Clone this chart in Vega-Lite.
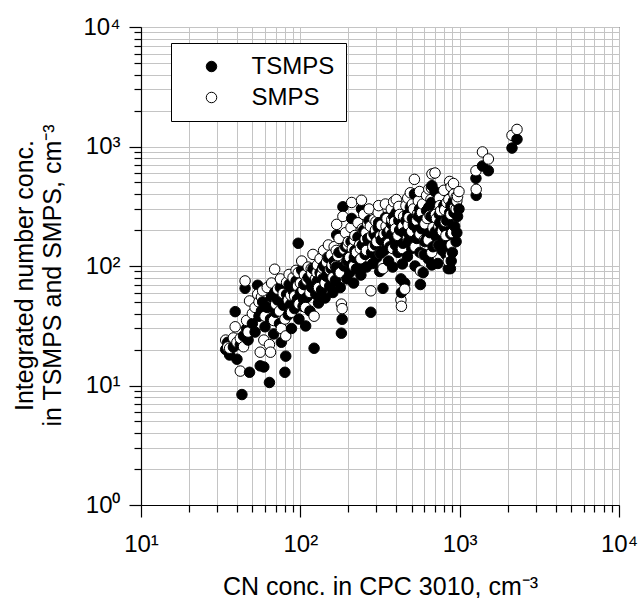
{
  "$schema": "https://vega.github.io/schema/vega-lite/v6.json",
  "width": 478,
  "height": 478,
  "autosize": "none",
  "padding": {"left": 141, "top": 27, "right": 19, "bottom": 93},
  "background": "white",
  "config": {
    "font": "Liberation Sans",
    "view": {"stroke": "black", "strokeWidth": 1},
    "axis": {"labelFont": "Liberation Sans", "titleFont": "Liberation Sans", "titleFontWeight": "normal", "labelColor": "black", "titleColor": "black"}
  },
  "data": {"values": [
    {"cn":34,"n":20,"inst":"TSMPS"},{"cn":34,"n":24,"inst":"SMPS"},
    {"cn":35,"n":23,"inst":"TSMPS"},{"cn":35,"n":21,"inst":"SMPS"},
    {"cn":36,"n":18,"inst":"TSMPS"},{"cn":36,"n":20.5,"inst":"SMPS"},
    {"cn":38,"n":21,"inst":"TSMPS"},{"cn":38,"n":25,"inst":"SMPS"},
    {"cn":40,"n":16.6,"inst":"TSMPS"},{"cn":40,"n":23,"inst":"SMPS"},
    {"cn":39,"n":41.5,"inst":"TSMPS"},{"cn":39,"n":31,"inst":"SMPS"},
    {"cn":43,"n":8.4,"inst":"TSMPS"},{"cn":42,"n":13.2,"inst":"SMPS"},
    {"cn":42,"n":22,"inst":"TSMPS"},{"cn":42,"n":24.8,"inst":"SMPS"},
    {"cn":44,"n":26,"inst":"TSMPS"},{"cn":44,"n":21.1,"inst":"SMPS"},
    {"cn":45,"n":65,"inst":"TSMPS"},{"cn":45,"n":75,"inst":"SMPS"},
    {"cn":46,"n":30,"inst":"TSMPS"},{"cn":46,"n":35,"inst":"SMPS"},
    {"cn":48,"n":12.9,"inst":"TSMPS"},{"cn":48,"n":51,"inst":"SMPS"},
    {"cn":47,"n":24,"inst":"TSMPS"},{"cn":47,"n":28,"inst":"SMPS"},
    {"cn":50,"n":33,"inst":"TSMPS"},{"cn":50,"n":40,"inst":"SMPS"},
    {"cn":52,"n":28,"inst":"TSMPS"},{"cn":52,"n":45,"inst":"SMPS"},
    {"cn":54,"n":69,"inst":"TSMPS"},{"cn":54,"n":58,"inst":"SMPS"},
    {"cn":55,"n":38,"inst":"TSMPS"},{"cn":55,"n":50,"inst":"SMPS"},
    {"cn":56,"n":14.6,"inst":"TSMPS"},{"cn":56,"n":19,"inst":"SMPS"},
    {"cn":57,"n":42,"inst":"TSMPS"},{"cn":57,"n":55,"inst":"SMPS"},
    {"cn":59,"n":14.3,"inst":"TSMPS"},{"cn":59,"n":24,"inst":"SMPS"},
    {"cn":58,"n":50,"inst":"TSMPS"},{"cn":58,"n":62,"inst":"SMPS"},
    {"cn":60,"n":31,"inst":"TSMPS"},{"cn":60,"n":38,"inst":"SMPS"},
    {"cn":62,"n":45,"inst":"TSMPS"},{"cn":62,"n":66,"inst":"SMPS"},
    {"cn":64,"n":10.6,"inst":"TSMPS"},{"cn":64,"n":22,"inst":"SMPS"},
    {"cn":65,"n":36,"inst":"TSMPS"},{"cn":65,"n":19,"inst":"SMPS"},
    {"cn":66,"n":55,"inst":"TSMPS"},{"cn":66,"n":72,"inst":"SMPS"},
    {"cn":68,"n":27,"inst":"TSMPS"},{"cn":68,"n":35,"inst":"SMPS"},
    {"cn":69,"n":60,"inst":"TSMPS"},{"cn":69,"n":94,"inst":"SMPS"},
    {"cn":70,"n":41,"inst":"TSMPS"},{"cn":70,"n":48,"inst":"SMPS"},
    {"cn":72,"n":52,"inst":"TSMPS"},{"cn":72,"n":64,"inst":"SMPS"},
    {"cn":74,"n":33,"inst":"TSMPS"},{"cn":74,"n":42,"inst":"SMPS"},
    {"cn":75,"n":66,"inst":"TSMPS"},{"cn":75,"n":78,"inst":"SMPS"},
    {"cn":76,"n":23,"inst":"TSMPS"},{"cn":76,"n":30,"inst":"SMPS"},
    {"cn":78,"n":47,"inst":"TSMPS"},{"cn":78,"n":59,"inst":"SMPS"},
    {"cn":80,"n":12.9,"inst":"TSMPS"},{"cn":80,"n":36,"inst":"SMPS"},
    {"cn":81,"n":17.6,"inst":"TSMPS"},{"cn":81,"n":26,"inst":"SMPS"},
    {"cn":82,"n":58,"inst":"TSMPS"},{"cn":82,"n":73,"inst":"SMPS"},
    {"cn":84,"n":39,"inst":"TSMPS"},{"cn":84,"n":52,"inst":"SMPS"},
    {"cn":85,"n":70,"inst":"TSMPS"},{"cn":85,"n":85,"inst":"SMPS"},
    {"cn":87,"n":48,"inst":"TSMPS"},{"cn":87,"n":57,"inst":"SMPS"},
    {"cn":88,"n":30,"inst":"TSMPS"},{"cn":88,"n":41,"inst":"SMPS"},
    {"cn":90,"n":62,"inst":"TSMPS"},{"cn":90,"n":80,"inst":"SMPS"},
    {"cn":92,"n":44,"inst":"TSMPS"},{"cn":92,"n":56,"inst":"SMPS"},
    {"cn":94,"n":75,"inst":"TSMPS"},{"cn":94,"n":92,"inst":"SMPS"},
    {"cn":96,"n":53,"inst":"TSMPS"},{"cn":96,"n":68,"inst":"SMPS"},
    {"cn":97,"n":155,"inst":"TSMPS"},{"cn":97,"n":88,"inst":"SMPS"},
    {"cn":98,"n":36,"inst":"TSMPS"},{"cn":98,"n":48,"inst":"SMPS"},
    {"cn":100,"n":60,"inst":"TSMPS"},{"cn":100,"n":72,"inst":"SMPS"},
    {"cn":102,"n":92.6,"inst":"TSMPS"},{"cn":102,"n":110,"inst":"SMPS"},
    {"cn":104,"n":46,"inst":"TSMPS"},{"cn":104,"n":63,"inst":"SMPS"},
    {"cn":105,"n":52,"inst":"TSMPS"},{"cn":105,"n":70,"inst":"SMPS"},
    {"cn":106,"n":70,"inst":"TSMPS"},{"cn":106,"n":84,"inst":"SMPS"},
    {"cn":108,"n":31.5,"inst":"TSMPS"},{"cn":108,"n":45,"inst":"SMPS"},
    {"cn":110,"n":55,"inst":"TSMPS"},{"cn":110,"n":76,"inst":"SMPS"},
    {"cn":112,"n":80,"inst":"TSMPS"},{"cn":112,"n":98,"inst":"SMPS"},
    {"cn":115,"n":42,"inst":"TSMPS"},{"cn":115,"n":60,"inst":"SMPS"},
    {"cn":117,"n":73,"inst":"TSMPS"},{"cn":117,"n":95,"inst":"SMPS"},
    {"cn":118,"n":66,"inst":"TSMPS"},{"cn":118,"n":87,"inst":"SMPS"},
    {"cn":120,"n":95,"inst":"TSMPS"},{"cn":120,"n":125,"inst":"SMPS"},
    {"cn":122,"n":20.5,"inst":"TSMPS"},{"cn":122,"n":38,"inst":"SMPS"},
    {"cn":125,"n":58,"inst":"TSMPS"},{"cn":125,"n":79,"inst":"SMPS"},
    {"cn":127,"n":62,"inst":"TSMPS"},{"cn":127,"n":88,"inst":"SMPS"},
    {"cn":128,"n":75,"inst":"TSMPS"},{"cn":128,"n":102,"inst":"SMPS"},
    {"cn":130,"n":49,"inst":"TSMPS"},{"cn":130,"n":66,"inst":"SMPS"},
    {"cn":133,"n":88,"inst":"TSMPS"},{"cn":133,"n":115,"inst":"SMPS"},
    {"cn":136,"n":63,"inst":"TSMPS"},{"cn":136,"n":84,"inst":"SMPS"},
    {"cn":138,"n":78,"inst":"TSMPS"},{"cn":138,"n":96,"inst":"SMPS"},
    {"cn":140,"n":100,"inst":"TSMPS"},{"cn":140,"n":135,"inst":"SMPS"},
    {"cn":143,"n":54,"inst":"TSMPS"},{"cn":143,"n":72,"inst":"SMPS"},
    {"cn":146,"n":82,"inst":"TSMPS"},{"cn":146,"n":108,"inst":"SMPS"},
    {"cn":148,"n":90,"inst":"TSMPS"},{"cn":148,"n":118,"inst":"SMPS"},
    {"cn":150,"n":118,"inst":"TSMPS"},{"cn":150,"n":150,"inst":"SMPS"},
    {"cn":153,"n":68,"inst":"TSMPS"},{"cn":153,"n":93,"inst":"SMPS"},
    {"cn":156,"n":95,"inst":"TSMPS"},{"cn":156,"n":124,"inst":"SMPS"},
    {"cn":158,"n":73,"inst":"TSMPS"},{"cn":158,"n":102,"inst":"SMPS"},
    {"cn":160,"n":60,"inst":"TSMPS"},{"cn":160,"n":80,"inst":"SMPS"},
    {"cn":163,"n":110,"inst":"TSMPS"},{"cn":163,"n":145,"inst":"SMPS"},
    {"cn":166,"n":76,"inst":"TSMPS"},{"cn":166,"n":100,"inst":"SMPS"},
    {"cn":168,"n":98,"inst":"TSMPS"},{"cn":168,"n":135,"inst":"SMPS"},
    {"cn":169,"n":182,"inst":"TSMPS"},{"cn":169,"n":223,"inst":"SMPS"},
    {"cn":172,"n":90,"inst":"TSMPS"},{"cn":172,"n":122,"inst":"SMPS"},
    {"cn":175,"n":130,"inst":"TSMPS"},{"cn":175,"n":170,"inst":"SMPS"},
    {"cn":178,"n":66,"inst":"TSMPS"},{"cn":178,"n":88,"inst":"SMPS"},
    {"cn":181,"n":27.4,"inst":"TSMPS"},{"cn":181,"n":48,"inst":"SMPS"},
    {"cn":183,"n":35.8,"inst":"TSMPS"},{"cn":183,"n":44,"inst":"SMPS"},
    {"cn":185,"n":313,"inst":"TSMPS"},{"cn":185,"n":260,"inst":"SMPS"},
    {"cn":188,"n":100,"inst":"TSMPS"},{"cn":188,"n":138,"inst":"SMPS"},
    {"cn":192,"n":145,"inst":"TSMPS"},{"cn":192,"n":190,"inst":"SMPS"},
    {"cn":196,"n":78,"inst":"TSMPS"},{"cn":196,"n":110,"inst":"SMPS"},
    {"cn":198,"n":110,"inst":"TSMPS"},{"cn":198,"n":150,"inst":"SMPS"},
    {"cn":200,"n":120,"inst":"TSMPS"},{"cn":200,"n":160,"inst":"SMPS"},
    {"cn":204,"n":88,"inst":"TSMPS"},{"cn":204,"n":118,"inst":"SMPS"},
    {"cn":208,"n":160,"inst":"TSMPS"},{"cn":208,"n":210,"inst":"SMPS"},
    {"cn":210,"n":250,"inst":"TSMPS"},{"cn":210,"n":340,"inst":"SMPS"},
    {"cn":212,"n":104,"inst":"TSMPS"},{"cn":212,"n":140,"inst":"SMPS"},
    {"cn":216,"n":72,"inst":"TSMPS"},{"cn":216,"n":100,"inst":"SMPS"},
    {"cn":218,"n":118,"inst":"TSMPS"},{"cn":218,"n":165,"inst":"SMPS"},
    {"cn":220,"n":135,"inst":"TSMPS"},{"cn":220,"n":180,"inst":"SMPS"},
    {"cn":225,"n":95,"inst":"TSMPS"},{"cn":225,"n":130,"inst":"SMPS"},
    {"cn":230,"n":175,"inst":"TSMPS"},{"cn":230,"n":230,"inst":"SMPS"},
    {"cn":235,"n":112,"inst":"TSMPS"},{"cn":235,"n":150,"inst":"SMPS"},
    {"cn":238,"n":102,"inst":"TSMPS"},{"cn":238,"n":140,"inst":"SMPS"},
    {"cn":240,"n":84,"inst":"TSMPS"},{"cn":240,"n":115,"inst":"SMPS"},
    {"cn":242,"n":300,"inst":"TSMPS"},{"cn":242,"n":355,"inst":"SMPS"},
    {"cn":245,"n":150,"inst":"TSMPS"},{"cn":245,"n":205,"inst":"SMPS"},
    {"cn":250,"n":200,"inst":"TSMPS"},{"cn":250,"n":270,"inst":"SMPS"},
    {"cn":255,"n":125,"inst":"TSMPS"},{"cn":255,"n":168,"inst":"SMPS"},
    {"cn":258,"n":145,"inst":"TSMPS"},{"cn":258,"n":190,"inst":"SMPS"},
    {"cn":260,"n":98,"inst":"TSMPS"},{"cn":260,"n":135,"inst":"SMPS"},
    {"cn":265,"n":170,"inst":"TSMPS"},{"cn":265,"n":225,"inst":"SMPS"},
    {"cn":270,"n":240,"inst":"TSMPS"},{"cn":270,"n":300,"inst":"SMPS"},
    {"cn":275,"n":160,"inst":"TSMPS"},{"cn":275,"n":215,"inst":"SMPS"},
    {"cn":277,"n":41,"inst":"TSMPS"},{"cn":277,"n":62,"inst":"SMPS"},
    {"cn":280,"n":130,"inst":"TSMPS"},{"cn":280,"n":178,"inst":"SMPS"},
    {"cn":285,"n":105,"inst":"TSMPS"},{"cn":285,"n":145,"inst":"SMPS"},
    {"cn":290,"n":185,"inst":"TSMPS"},{"cn":290,"n":245,"inst":"SMPS"},
    {"cn":296,"n":150,"inst":"TSMPS"},{"cn":296,"n":200,"inst":"SMPS"},
    {"cn":298,"n":175,"inst":"TSMPS"},{"cn":298,"n":235,"inst":"SMPS"},
    {"cn":302,"n":118,"inst":"TSMPS"},{"cn":302,"n":160,"inst":"SMPS"},
    {"cn":308,"n":210,"inst":"TSMPS"},{"cn":308,"n":280,"inst":"SMPS"},
    {"cn":310,"n":230,"inst":"TSMPS"},{"cn":310,"n":320,"inst":"SMPS"},
    {"cn":315,"n":90,"inst":"TSMPS"},{"cn":315,"n":128,"inst":"SMPS"},
    {"cn":318,"n":128,"inst":"TSMPS"},{"cn":318,"n":178,"inst":"SMPS"},
    {"cn":322,"n":165,"inst":"TSMPS"},{"cn":322,"n":220,"inst":"SMPS"},
    {"cn":330,"n":65,"inst":"TSMPS"},{"cn":330,"n":95,"inst":"SMPS"},
    {"cn":335,"n":135,"inst":"TSMPS"},{"cn":335,"n":185,"inst":"SMPS"},
    {"cn":342,"n":255,"inst":"TSMPS"},{"cn":342,"n":330,"inst":"SMPS"},
    {"cn":345,"n":160,"inst":"TSMPS"},{"cn":345,"n":215,"inst":"SMPS"},
    {"cn":350,"n":190,"inst":"TSMPS"},{"cn":350,"n":250,"inst":"SMPS"},
    {"cn":358,"n":110,"inst":"TSMPS"},{"cn":358,"n":155,"inst":"SMPS"},
    {"cn":365,"n":145,"inst":"TSMPS"},{"cn":365,"n":200,"inst":"SMPS"},
    {"cn":372,"n":225,"inst":"TSMPS"},{"cn":372,"n":300,"inst":"SMPS"},
    {"cn":375,"n":185,"inst":"TSMPS"},{"cn":375,"n":245,"inst":"SMPS"},
    {"cn":380,"n":98,"inst":"TSMPS"},{"cn":380,"n":140,"inst":"SMPS"},
    {"cn":385,"n":260,"inst":"TSMPS"},{"cn":385,"n":345,"inst":"SMPS"},
    {"cn":390,"n":170,"inst":"TSMPS"},{"cn":390,"n":235,"inst":"SMPS"},
    {"cn":395,"n":150,"inst":"TSMPS"},{"cn":395,"n":205,"inst":"SMPS"},
    {"cn":400,"n":280,"inst":"TSMPS"},{"cn":400,"n":360,"inst":"SMPS"},
    {"cn":410,"n":130,"inst":"TSMPS"},{"cn":410,"n":180,"inst":"SMPS"},
    {"cn":415,"n":240,"inst":"TSMPS"},{"cn":415,"n":315,"inst":"SMPS"},
    {"cn":420,"n":200,"inst":"TSMPS"},{"cn":420,"n":270,"inst":"SMPS"},
    {"cn":428,"n":78,"inst":"TSMPS"},{"cn":428,"n":52,"inst":"SMPS"},
    {"cn":431,"n":60,"inst":"TSMPS"},{"cn":431,"n":46,"inst":"SMPS"},
    {"cn":437,"n":104,"inst":"TSMPS"},{"cn":437,"n":140,"inst":"SMPS"},
    {"cn":440,"n":155,"inst":"TSMPS"},{"cn":440,"n":215,"inst":"SMPS"},
    {"cn":445,"n":190,"inst":"TSMPS"},{"cn":445,"n":260,"inst":"SMPS"},
    {"cn":452,"n":72,"inst":"TSMPS"},{"cn":452,"n":64,"inst":"SMPS"},
    {"cn":460,"n":240,"inst":"TSMPS"},{"cn":460,"n":320,"inst":"SMPS"},
    {"cn":470,"n":120,"inst":"TSMPS"},{"cn":470,"n":170,"inst":"SMPS"},
    {"cn":472,"n":270,"inst":"TSMPS"},{"cn":472,"n":370,"inst":"SMPS"},
    {"cn":475,"n":160,"inst":"TSMPS"},{"cn":475,"n":220,"inst":"SMPS"},
    {"cn":480,"n":185,"inst":"TSMPS"},{"cn":480,"n":255,"inst":"SMPS"},
    {"cn":490,"n":310,"inst":"TSMPS"},{"cn":490,"n":410,"inst":"SMPS"},
    {"cn":500,"n":140,"inst":"TSMPS"},{"cn":500,"n":195,"inst":"SMPS"},
    {"cn":505,"n":250,"inst":"TSMPS"},{"cn":505,"n":330,"inst":"SMPS"},
    {"cn":512,"n":220,"inst":"TSMPS"},{"cn":512,"n":300,"inst":"SMPS"},
    {"cn":520,"n":400,"inst":"TSMPS"},{"cn":520,"n":531,"inst":"SMPS"},
    {"cn":525,"n":100,"inst":"TSMPS"},{"cn":525,"n":145,"inst":"SMPS"},
    {"cn":538,"n":170,"inst":"TSMPS"},{"cn":538,"n":240,"inst":"SMPS"},
    {"cn":545,"n":200,"inst":"TSMPS"},{"cn":545,"n":275,"inst":"SMPS"},
    {"cn":550,"n":260,"inst":"TSMPS"},{"cn":550,"n":350,"inst":"SMPS"},
    {"cn":560,"n":300,"inst":"TSMPS"},{"cn":560,"n":420,"inst":"SMPS"},
    {"cn":563,"n":130,"inst":"TSMPS"},{"cn":563,"n":185,"inst":"SMPS"},
    {"cn":567,"n":70,"inst":"TSMPS"},{"cn":567,"n":91,"inst":"SMPS"},
    {"cn":577,"n":205,"inst":"TSMPS"},{"cn":577,"n":280,"inst":"SMPS"},
    {"cn":585,"n":240,"inst":"TSMPS"},{"cn":585,"n":330,"inst":"SMPS"},
    {"cn":590,"n":88,"inst":"TSMPS"},{"cn":590,"n":125,"inst":"SMPS"},
    {"cn":600,"n":125,"inst":"TSMPS"},{"cn":600,"n":165,"inst":"SMPS"},
    {"cn":605,"n":160,"inst":"TSMPS"},{"cn":605,"n":225,"inst":"SMPS"},
    {"cn":620,"n":290,"inst":"TSMPS"},{"cn":620,"n":390,"inst":"SMPS"},
    {"cn":625,"n":175,"inst":"TSMPS"},{"cn":625,"n":250,"inst":"SMPS"},
    {"cn":635,"n":115,"inst":"TSMPS"},{"cn":635,"n":165,"inst":"SMPS"},
    {"cn":640,"n":310,"inst":"TSMPS"},{"cn":640,"n":440,"inst":"SMPS"},
    {"cn":650,"n":190,"inst":"TSMPS"},{"cn":650,"n":265,"inst":"SMPS"},
    {"cn":660,"n":260,"inst":"TSMPS"},{"cn":660,"n":360,"inst":"SMPS"},
    {"cn":665,"n":340,"inst":"TSMPS"},{"cn":665,"n":450,"inst":"SMPS"},
    {"cn":668,"n":102,"inst":"TSMPS"},{"cn":668,"n":130,"inst":"SMPS"},
    {"cn":670,"n":470,"inst":"TSMPS"},{"cn":670,"n":589,"inst":"SMPS"},
    {"cn":680,"n":145,"inst":"TSMPS"},{"cn":680,"n":210,"inst":"SMPS"},
    {"cn":700,"n":420,"inst":"TSMPS"},{"cn":700,"n":600,"inst":"SMPS"},
    {"cn":705,"n":195,"inst":"TSMPS"},{"cn":705,"n":270,"inst":"SMPS"},
    {"cn":715,"n":175,"inst":"TSMPS"},{"cn":715,"n":250,"inst":"SMPS"},
    {"cn":730,"n":105,"inst":"TSMPS"},{"cn":730,"n":150,"inst":"SMPS"},
    {"cn":740,"n":150,"inst":"TSMPS"},{"cn":740,"n":215,"inst":"SMPS"},
    {"cn":745,"n":270,"inst":"TSMPS"},{"cn":745,"n":370,"inst":"SMPS"},
    {"cn":750,"n":230,"inst":"TSMPS"},{"cn":750,"n":320,"inst":"SMPS"},
    {"cn":760,"n":200,"inst":"TSMPS"},{"cn":760,"n":290,"inst":"SMPS"},
    {"cn":778,"n":135,"inst":"TSMPS"},{"cn":778,"n":195,"inst":"SMPS"},
    {"cn":795,"n":320,"inst":"TSMPS"},{"cn":795,"n":430,"inst":"SMPS"},
    {"cn":805,"n":210,"inst":"TSMPS"},{"cn":805,"n":295,"inst":"SMPS"},
    {"cn":812,"n":160,"inst":"TSMPS"},{"cn":812,"n":235,"inst":"SMPS"},
    {"cn":820,"n":125,"inst":"TSMPS"},{"cn":820,"n":180,"inst":"SMPS"},
    {"cn":830,"n":240,"inst":"TSMPS"},{"cn":830,"n":340,"inst":"SMPS"},
    {"cn":848,"n":95,"inst":"TSMPS"},{"cn":848,"n":110,"inst":"SMPS"},
    {"cn":855,"n":250,"inst":"TSMPS"},{"cn":855,"n":360,"inst":"SMPS"},
    {"cn":865,"n":280,"inst":"TSMPS"},{"cn":865,"n":510,"inst":"SMPS"},
    {"cn":875,"n":95,"inst":"TSMPS"},{"cn":875,"n":124,"inst":"SMPS"},
    {"cn":880,"n":185,"inst":"TSMPS"},{"cn":880,"n":270,"inst":"SMPS"},
    {"cn":882,"n":320,"inst":"TSMPS"},{"cn":882,"n":460,"inst":"SMPS"},
    {"cn":885,"n":110,"inst":"TSMPS"},{"cn":885,"n":150,"inst":"SMPS"},
    {"cn":900,"n":130,"inst":"TSMPS"},{"cn":900,"n":190,"inst":"SMPS"},
    {"cn":915,"n":350,"inst":"TSMPS"},{"cn":915,"n":490,"inst":"SMPS"},
    {"cn":920,"n":280,"inst":"TSMPS"},{"cn":920,"n":400,"inst":"SMPS"},
    {"cn":930,"n":215,"inst":"TSMPS"},{"cn":930,"n":310,"inst":"SMPS"},
    {"cn":950,"n":160,"inst":"TSMPS"},{"cn":950,"n":300,"inst":"SMPS"},
    {"cn":952,"n":345,"inst":"TSMPS"},{"cn":952,"n":380,"inst":"SMPS"},
    {"cn":960,"n":190,"inst":"TSMPS"},{"cn":960,"n":350,"inst":"SMPS"},
    {"cn":970,"n":260,"inst":"TSMPS"},{"cn":970,"n":380,"inst":"SMPS"},
    {"cn":990,"n":300,"inst":"TSMPS"},{"cn":990,"n":420,"inst":"SMPS"},
    {"cn":1265,"n":542,"inst":"TSMPS"},{"cn":1265,"n":627,"inst":"SMPS"},
    {"cn":1270,"n":390,"inst":"TSMPS"},{"cn":1270,"n":438,"inst":"SMPS"},
    {"cn":1390,"n":687,"inst":"TSMPS"},{"cn":1390,"n":900,"inst":"SMPS"},
    {"cn":1514,"n":627,"inst":"TSMPS"},{"cn":1514,"n":786,"inst":"SMPS"},
    {"cn":2130,"n":970,"inst":"TSMPS"},{"cn":2130,"n":1240,"inst":"SMPS"},
    {"cn":2290,"n":1150,"inst":"TSMPS"},{"cn":2290,"n":1390,"inst":"SMPS"}
  ]},
  "mark": {"type": "circle", "size": 110, "stroke": "black", "strokeWidth": 1, "opacity": 1, "fillOpacity": 1},
  "encoding": {
    "x": {
      "field": "cn", "type": "quantitative",
      "scale": {"type": "log", "domain": [10, 10000], "nice": false},
      "axis": {
        "title": "CN conc. in CPC 3010, cm⁻³",
        "titleFontSize": 25, "titleBaseline": "alphabetic", "titleY": 89,
        "values": [10,20,30,40,50,60,70,80,90,100,200,300,400,500,600,700,800,900,1000,2000,3000,4000,5000,6000,7000,8000,9000,10000],
        "labelExpr": "datum.value==10?'10¹':datum.value==100?'10²':datum.value==1000?'10³':datum.value==10000?'10⁴':''",
        "labelFontSize": 24, "labelPadding": 15, "labelOverlap": false, "labelFlush": false,
        "ticks": true, "tickColor": "black", "tickWidth": 1.2, "domainColor": "black", "domainWidth": 1.2,
        "tickSize": {"condition": {"test": "indexof([10,100,1000,10000], datum.value) >= 0", "value": 12}, "value": 7},
        "grid": true, "gridColor": "#c4c4c4", "gridWidth": 1
      }
    },
    "y": {
      "field": "n", "type": "quantitative",
      "scale": {"type": "log", "domain": [1, 10000], "nice": false},
      "axis": {
        "title": ["Integrated number conc.", "in TSMPS and SMPS, cm⁻³"],
        "titleFontSize": 25, "titleLineHeight": 28, "titleAngle": -90,
        "titleBaseline": "alphabetic", "titleAlign": "center",
        "titleX": -109, "titleY": 248,
        "values": [1,2,3,4,5,6,7,8,9,10,20,30,40,50,60,70,80,90,100,200,300,400,500,600,700,800,900,1000,2000,3000,4000,5000,6000,7000,8000,9000,10000],
        "labelExpr": "datum.value==1?'10⁰':datum.value==10?'10¹':datum.value==100?'10²':datum.value==1000?'10³':datum.value==10000?'10⁴':''",
        "labelFontSize": 24, "labelPadding": 9, "labelOverlap": false, "labelFlush": false,
        "ticks": true, "tickColor": "black", "tickWidth": 1.2, "domainColor": "black", "domainWidth": 1.2,
        "tickSize": {"condition": {"test": "indexof([1,10,100,1000,10000], datum.value) >= 0", "value": 12}, "value": 7},
        "grid": true, "gridColor": "#c4c4c4", "gridWidth": 1
      }
    },
    "fill": {
      "field": "inst", "type": "nominal",
      "scale": {"domain": ["TSMPS", "SMPS"], "range": ["black", "white"]},
      "legend": {
        "title": null, "orient": "none", "legendX": 30, "legendY": 16,
        "strokeColor": "black", "fillColor": "white", "padding": 11.5,
        "symbolType": "circle", "symbolSize": 110, "symbolStrokeColor": "black", "symbolStrokeWidth": 1,
        "symbolOffset": 17, "labelOffset": 28, "labelFontSize": 24, "labelFont": "Liberation Sans", "labelColor": "black",
        "rowPadding": 7
      }
    }
  }
}
